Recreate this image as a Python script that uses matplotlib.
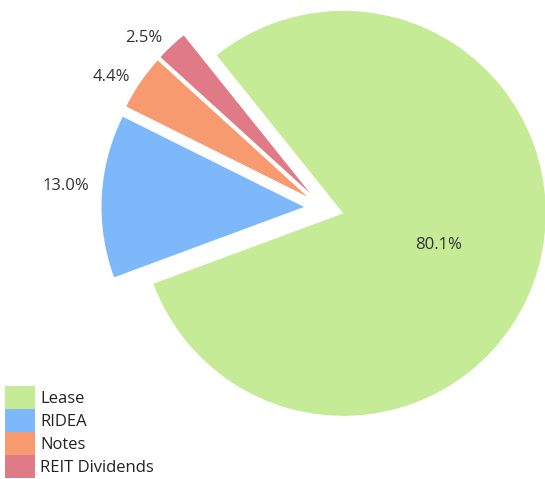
import numpy as np
import matplotlib
matplotlib.use("Agg")
import matplotlib.pyplot as plt

plt.rcParams["font.family"] = ["Open Sans", "DejaVu Sans"]

categories = ["Lease", "RIDEA", "Notes", "REIT Dividends"]
shares = [80.1, 13.0, 4.4, 2.5]
colors = ["#C5EB96", "#7CB8FA", "#F79A6F", "#DF7A86"]

W, H = 545, 479
fig = plt.figure(figsize=(W / 100, H / 100), dpi=100)
ax = fig.add_axes([0, 0, 1, 1])

center = (324, -208)
radius = 202.5
gap = 20

wedges, _ = ax.pie(shares, colors=colors, startangle=128.7, counterclock=False,
                   explode=[gap] * len(shares), center=center, radius=radius,
                   wedgeprops=dict(linewidth=0), frame=True)
ax.set_xlim(0, W)
ax.set_ylim(-H, 0)
ax.set_aspect("equal")
ax.axis("off")

# percentage labels: the big slice inside, the small ones just outside its rim
for w, val in zip(wedges, shares):
    mid = np.deg2rad(0.5 * (w.theta1 + w.theta2))
    cx, cy = w.center
    if val > 50:
        x = cx + 0.49 * radius * np.cos(mid)
        y = cy + 0.49 * radius * np.sin(mid) - 5
        ax.text(x, y, f"{val:.1f}%", ha="center", va="center",
                fontsize=12, color="#333333")
    else:
        x = cx + 1.05 * radius * np.cos(mid) - 2
        y = cy + 1.05 * radius * np.sin(mid)
        if val > 10:
            y += 10
        ax.text(x, y, f"{val:.1f}%", ha="right", va="center",
                fontsize=12, color="#333333")

leg = ax.legend(wedges, categories, loc="lower left",
                bbox_to_anchor=(5 / W, 1 / H), bbox_transform=fig.transFigure,
                frameon=False, fontsize=12, handlelength=1.8, handleheight=1.75,
                labelspacing=0, handletextpad=0.3, borderpad=0, borderaxespad=0)
for t in leg.get_texts():
    t.set_color("#222222")

fig.savefig("out.png", dpi=100)
